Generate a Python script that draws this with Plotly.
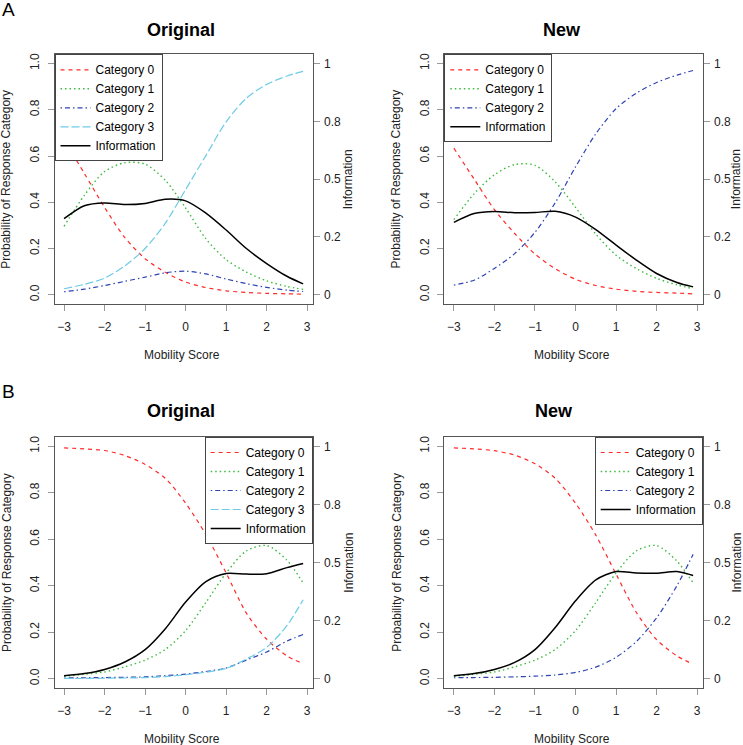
import plotly.graph_objects as go

# ---------------- data ----------------
theta = [-3, -2.5, -2, -1.5, -1, -0.5, 0, 0.5, 1, 1.5, 2, 2.5, 2.9]

# Panel A - Original
a_orig_cat0 = [0.670, 0.525, 0.378, 0.247, 0.156, 0.097, 0.055, 0.031, 0.017, 0.010, 0.006, 0.004, 0.003]
a_orig_cat1 = [0.296, 0.430, 0.533, 0.571, 0.565, 0.495, 0.375, 0.242, 0.152, 0.098, 0.060, 0.036, 0.023]
a_orig_cat2 = [0.013, 0.024, 0.040, 0.058, 0.076, 0.095, 0.102, 0.090, 0.068, 0.048, 0.032, 0.020, 0.014]
a_orig_cat3 = [0.026, 0.045, 0.072, 0.125, 0.200, 0.310, 0.455, 0.602, 0.748, 0.850, 0.910, 0.946, 0.966]
a_orig_info = [0.329, 0.385, 0.397, 0.390, 0.395, 0.413, 0.406, 0.353, 0.280, 0.200, 0.135, 0.080, 0.047]

# Panel A - New
a_new_cat0 = [0.634, 0.500, 0.368, 0.265, 0.176, 0.113, 0.067, 0.040, 0.024, 0.015, 0.010, 0.007, 0.004]
a_new_cat1 = [0.325, 0.437, 0.519, 0.563, 0.560, 0.488, 0.378, 0.262, 0.171, 0.113, 0.071, 0.043, 0.026]
a_new_cat2 = [0.042, 0.063, 0.114, 0.178, 0.270, 0.398, 0.553, 0.696, 0.805, 0.872, 0.918, 0.950, 0.970]
a_new_info = [0.313, 0.351, 0.360, 0.355, 0.356, 0.361, 0.336, 0.282, 0.215, 0.150, 0.092, 0.053, 0.034]

# Panel B - Original
b_orig_cat0 = [0.993, 0.989, 0.982, 0.960, 0.922, 0.862, 0.755, 0.620, 0.455, 0.282, 0.170, 0.098, 0.065]
b_orig_cat1 = [0.010, 0.019, 0.029, 0.051, 0.080, 0.126, 0.207, 0.328, 0.455, 0.550, 0.573, 0.510, 0.412]
b_orig_cat2 = [0.003, 0.004, 0.005, 0.006, 0.008, 0.013, 0.020, 0.031, 0.046, 0.080, 0.115, 0.162, 0.190]
b_orig_cat3 = [0.001, 0.001, 0.002, 0.003, 0.005, 0.009, 0.017, 0.028, 0.044, 0.085, 0.135, 0.228, 0.340]
b_orig_info = [0.013, 0.022, 0.040, 0.072, 0.125, 0.215, 0.330, 0.418, 0.453, 0.450, 0.452, 0.478, 0.496]

# Panel B - New
b_new_cat0 = [0.993, 0.989, 0.981, 0.962, 0.925, 0.862, 0.755, 0.618, 0.450, 0.285, 0.168, 0.098, 0.062]
b_new_cat1 = [0.010, 0.019, 0.029, 0.051, 0.080, 0.126, 0.207, 0.328, 0.455, 0.550, 0.573, 0.506, 0.412]
b_new_cat2 = [0.004, 0.005, 0.006, 0.008, 0.011, 0.016, 0.027, 0.050, 0.092, 0.160, 0.262, 0.400, 0.535]
b_new_info = [0.013, 0.022, 0.040, 0.070, 0.125, 0.220, 0.335, 0.425, 0.461, 0.455, 0.454, 0.461, 0.444]

series_names = ["Category 0", "Category 1", "Category 2", "Category 3", "Information"]
x_ticks = [-3, -2, -1, 0, 1, 2, 3]
prob_ticks = [0, 0.2, 0.4, 0.6, 0.8, 1.0]
prob_ticklabels = ["0.0", "0.2", "0.4", "0.6", "0.8", "1.0"]
info_ticks = [0, 0.25, 0.5, 0.75, 1]
info_ticklabels = ["0", "0.2", "0.5", "0.8", "1"]

# ---------------- styles ----------------
FONT = "Liberation Sans, Arial, sans-serif"
styles = [
    dict(color="#FF2A2A", width=1.2, dash="4px,4px"),
    dict(color="#3CBB3C", width=1.4, dash="1.5px,3px"),
    dict(color="#2E44B4", width=1.2, dash="1.5px,3px,5px,3px"),
    dict(color="#6CCBE6", width=1.2, dash="8px,3px"),
    dict(color="#000000", width=1.5, dash="solid"),
]

W, H = 743, 745
def px_x(p):
    return p / W
def px_y(p):
    return 1 - p / H

# plot-area boxes (pixels): left, right, top, bottom
boxes = {
    "A_orig": (54.5, 312.7, 54.3, 304.0),
    "A_new": (444.3, 702.7, 54.3, 304.0),
    "B_orig": (54.5, 312.7, 437.0, 688.0),
    "B_new": (444.3, 702.7, 437.0, 688.0),
}

panels = [
    ("A_orig", [a_orig_cat0, a_orig_cat1, a_orig_cat2, a_orig_cat3], a_orig_info, "left"),
    ("A_new", [a_new_cat0, a_new_cat1, a_new_cat2], a_new_info, "left"),
    ("B_orig", [b_orig_cat0, b_orig_cat1, b_orig_cat2, b_orig_cat3], b_orig_info, "right"),
    ("B_new", [b_new_cat0, b_new_cat1, b_new_cat2], b_new_info, "right"),
]

fig = go.Figure()
layout = dict(
    width=W, height=H, margin=dict(l=0, r=0, t=0, b=0),
    paper_bgcolor="white", plot_bgcolor="white",
    font=dict(family=FONT, size=12, color="#000"),
    showlegend=True,
)

annotations = []
for i, (key, cats, info, legpos) in enumerate(panels):
    n = i + 1
    xa = "x" if n == 1 else f"x{n}"
    ya_p = 2 * n - 1
    ya_i = 2 * n
    ya_p_name = "y" if ya_p == 1 else f"y{ya_p}"
    ya_i_name = f"y{ya_i}"
    leg = "legend" if n == 1 else f"legend{n}"
    l, r, t, b = boxes[key]

    for k, vals in enumerate(cats):
        fig.add_trace(go.Scatter(
            x=theta, y=vals, mode="lines", name=series_names[k],
            line=dict(shape="spline", smoothing=0.8, **styles[k]),
            xaxis=xa, yaxis=ya_p_name, legend=leg, hoverinfo="skip",
        ))
    fig.add_trace(go.Scatter(
        x=theta, y=info, mode="lines", name=series_names[4],
        line=dict(shape="spline", smoothing=0.8, **styles[4]),
        xaxis=xa, yaxis=ya_i_name, legend=leg, hoverinfo="skip",
    ))

    xkey = "xaxis" if n == 1 else f"xaxis{n}"
    layout[xkey] = dict(
        domain=[px_x(l), px_x(r)], anchor=ya_p_name, range=[-3.236, 3.136],
        tickvals=x_ticks, ticks="outside", ticklen=6, tickcolor="#999",
        showline=True, mirror=True, linecolor="#555", linewidth=1,
        showgrid=False, zeroline=False, ticklabelstandoff=6,
        tickfont=dict(size=12, color="#222"),
    )
    layout["yaxis" if ya_p == 1 else f"yaxis{ya_p}"] = dict(
        domain=[px_y(b), px_y(t)], anchor=xa, range=[-0.04, 1.04],
        tickvals=prob_ticks, ticktext=prob_ticklabels, tickangle=-90,
        ticks="outside", ticklen=6, tickcolor="#999",
        showline=True, mirror=True, linecolor="#555", linewidth=1,
        showgrid=False, zeroline=False, ticklabelstandoff=4,
        tickfont=dict(size=12, color="#222"),
    )
    layout[f"yaxis{ya_i}"] = dict(
        overlaying=ya_p_name, anchor=xa, side="right", range=[-0.04, 1.04],
        tickvals=info_ticks, ticktext=info_ticklabels, tickangle=0,
        ticks="outside", ticklen=6, tickcolor="#999",
        showline=False, showgrid=False, zeroline=False, ticklabelstandoff=2,
        tickfont=dict(size=12, color="#222"),
    )
    if legpos == "left":
        layout[leg] = dict(x=px_x(l), y=px_y(t), xanchor="left", yanchor="top",
                           xref="paper", yref="paper",
                           bgcolor="white", bordercolor="#444", borderwidth=1,
                           font=dict(size=12, family=FONT), itemwidth=30,
                           tracegroupgap=0)
    else:
        layout[leg] = dict(x=px_x(r), y=px_y(t), xanchor="right", yanchor="top",
                           xref="paper", yref="paper",
                           bgcolor="white", bordercolor="#444", borderwidth=1,
                           font=dict(size=12, family=FONT), itemwidth=30,
                           tracegroupgap=0)

    cy = (t + b) / 2
    is_left = key.endswith("orig")
    # axis titles
    annotations.append(dict(text="Mobility Score", x=px_x((l + r) / 2 - 2),
                            y=px_y(b + 51), xref="paper", yref="paper",
                            showarrow=False, xanchor="center", yanchor="middle",
                            font=dict(size=12, color="#222")))
    annotations.append(dict(text="Probability of Response Category",
                            x=px_x(l - 48), y=px_y(cy), xref="paper", yref="paper",
                            showarrow=False, textangle=-90, xanchor="center",
                            yanchor="middle", font=dict(size=12, color="#222")))
    info_x = r + 35.5 if is_left else min(r + 35.5, W - 7)
    annotations.append(dict(text="Information", x=px_x(info_x), y=px_y(cy),
                            xref="paper", yref="paper", showarrow=False,
                            textangle=-90, xanchor="center", yanchor="middle",
                            font=dict(size=12, color="#222")))
    # panel title
    title_txt = "Original" if is_left else "New"
    tx = 181 if is_left else (562 if key.startswith("A") else 554)
    ty = 30 if key.startswith("A") else 411
    annotations.append(dict(text=f"<b>{title_txt}</b>", x=px_x(tx), y=px_y(ty),
                            xref="paper", yref="paper", showarrow=False,
                            xanchor="center", yanchor="middle",
                            font=dict(size=18, color="#000")))

annotations.append(dict(text="A", x=0, y=px_y(9), xref="paper", yref="paper",
                        showarrow=False, xanchor="left", yanchor="middle",
                        font=dict(size=19, color="#000")))
annotations.append(dict(text="B", x=0, y=px_y(391), xref="paper", yref="paper",
                        showarrow=False, xanchor="left", yanchor="middle",
                        font=dict(size=19, color="#000")))
layout["annotations"] = annotations

fig.update_layout(**layout)
fig.write_html(
    "out.html",
    config={"displayModeBar": False},
    post_script="document.body.style.margin='0px';document.body.style.overflow='hidden';",
)
